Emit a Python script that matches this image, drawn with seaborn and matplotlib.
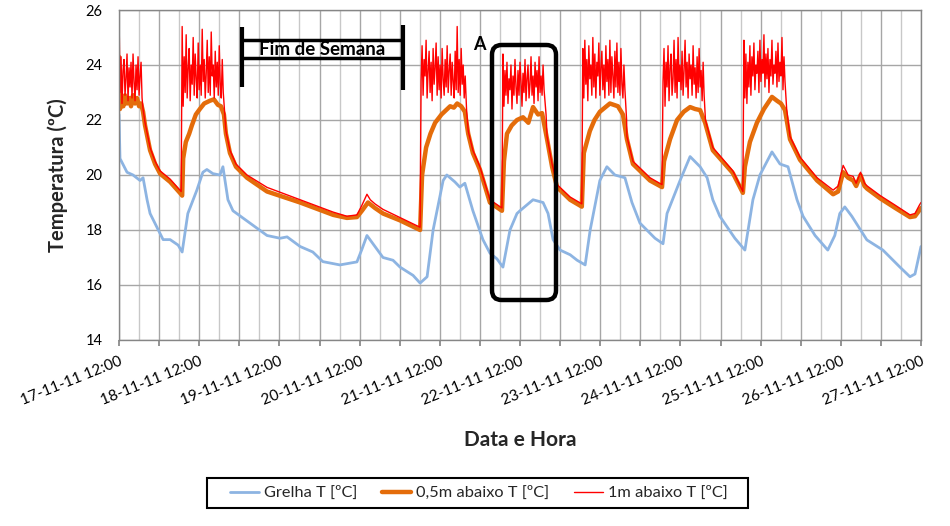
import numpy as np
import pandas as pd
import seaborn as sns
import matplotlib.pyplot as plt
import matplotlib.dates as mdates
from matplotlib.ticker import FuncFormatter
from matplotlib.patches import FancyBboxPatch, Rectangle

start = pd.Timestamp('2011-11-17 12:00')

# Grelha T [ºC]: hours after 17-11-11 12:00 and temperature
grelha_h = [0.0, 0.3, 2.4, 4.2, 6.3, 7.2, 8.4, 9.3, 13.2, 15.3, 17.7, 18.9, 20.6, 23.3, 25.1,
            26.3, 28.1, 30.2, 31.1, 32.6, 34.1, 39.2, 44.3, 48.2, 50.3, 54.2, 58.0, 61.0, 66.1,
            71.2, 72.7, 74.2, 76.0, 79.0, 82.0, 84.1, 88.0, 90.1, 92.2, 94.0, 97.0, 98.1, 100.5,
            102.0, 103.5, 105.9, 108.9, 111.0, 113.1, 114.9, 117.0, 119.1, 120.0, 123.9, 126.9,
            128.4, 129.9, 132.0, 135.0, 137.1, 139.5, 141.0, 143.9, 146.0, 148.4, 151.4, 153.5,
            155.9, 160.4, 162.8, 164.0, 167.9, 170.9, 173.9, 176.0, 177.7, 179.8, 184.3, 187.3,
            189.7, 191.8, 195.4, 197.8, 200.2, 202.9, 204.7, 208.3, 212.1, 214.2, 215.7, 217.2,
            219.3, 223.8, 228.6, 233.7, 236.7, 238.2, 240.0]
grelha = [22.2, 20.6, 20.1, 20.0, 19.8, 19.9, 19.1, 18.6, 17.65, 17.65, 17.45, 17.2, 18.6, 19.45, 20.1,
          20.2, 20.05, 20.0, 20.3, 19.1, 18.7, 18.25, 17.8, 17.7, 17.75, 17.4, 17.2, 16.85, 16.73,
          16.84, 17.3, 17.8, 17.5, 17.0, 16.9, 16.65, 16.35, 16.07, 16.3, 18.0, 19.8, 20.0, 19.75,
          19.56, 19.7, 18.7, 17.65, 17.16, 16.95, 16.65, 18.0, 18.6, 18.7, 19.1, 19.0,
          18.6, 17.65, 17.27, 17.1, 16.9, 16.73, 18.0, 19.8, 20.3, 20.0, 19.9, 19.0,
          18.25, 17.7, 17.5, 18.6, 19.8, 20.67, 20.3, 19.9, 19.1, 18.5, 17.7, 17.27,
          19.1, 20.0, 20.84, 20.4, 20.3, 19.1, 18.5, 17.8, 17.27, 17.8, 18.6, 18.84,
          18.5, 17.64, 17.27, 16.65, 16.3, 16.4, 17.4]

# 0,5m abaixo T [ºC]
meio_h = [0.0, 0.3, 0.8, 1.3, 1.8, 2.4, 3.0, 3.6, 4.2, 4.8, 5.4, 6.0, 6.6, 7.2, 7.8, 9.3, 10.8,
          12.3, 15.3, 18.6, 18.9, 19.2, 20.0, 21.0, 21.8, 23.0, 24.2, 25.5, 27.2, 28.4, 29.6,
          30.5, 31.4, 32.0, 33.2, 35.0, 38.3, 44.3, 54.2, 64.1, 68.2, 71.2, 72.7, 74.5, 76.6,
          79.0, 84.1, 90.1, 90.7, 91.9, 93.2, 94.6, 96.5, 99.1, 100.2, 101.2, 102.4, 103.5, 104.5,
          105.9, 108.0, 111.0, 114.6, 115.2, 116.1, 117.5, 119.1, 120.9, 122.5, 123.9, 125.4,
          126.6, 128.1, 129.6, 131.1, 135.0, 138.5, 139.1, 140.9, 142.3, 143.9, 145.4, 146.9,
          148.1, 149.3, 150.8, 152.0, 153.8, 158.9, 162.5, 163.1, 164.9, 167.0, 169.0, 170.9,
          172.4, 173.9, 175.4, 177.7, 183.7, 186.7, 187.3, 188.8, 190.9, 193.0, 195.4, 196.9,
          198.1, 199.3, 200.8, 203.8, 208.9, 213.7, 215.2, 216.7, 218.2, 219.7, 220.6, 221.9,
          223.1, 223.9, 227.8, 232.3, 236.7, 238.2, 240.0]
meio = [24.3, 22.4, 22.8, 22.5, 22.9, 22.6, 22.8, 22.5, 22.9, 22.6, 22.8, 22.5, 22.6, 22.3, 21.8, 20.9, 20.4,
        20.05, 19.75, 19.3, 19.25, 20.6, 21.2, 21.5, 21.8, 22.2, 22.4, 22.6, 22.7, 22.75, 22.55,
        22.5, 22.2, 21.5, 20.8, 20.3, 19.9, 19.4, 19.0, 18.55, 18.44, 18.47, 18.7, 19.0, 18.8,
        18.6, 18.35, 18.0, 20.0, 21.0, 21.5, 21.9, 22.2, 22.5, 22.45, 22.6, 22.5, 22.3, 21.5,
        20.8, 20.2, 19.0, 18.7, 20.5, 21.5, 21.8, 22.0, 22.1, 21.9, 22.47, 22.2,
        22.25, 21.3, 20.3, 19.56, 19.1, 18.85, 20.8, 21.6, 22.0, 22.3, 22.45, 22.6,
        22.55, 22.5, 22.2, 21.3, 20.4, 19.8, 19.56, 20.5, 21.3, 22.0, 22.3, 22.47,
        22.4, 22.36, 21.9, 20.9, 20.07, 19.35, 20.3, 21.2, 21.9, 22.4, 22.84, 22.7,
        22.6, 22.36, 21.3, 20.55, 19.8, 19.3, 19.4, 20.1, 19.9, 19.8, 19.6, 20.0,
        19.6, 19.5, 19.15, 18.8, 18.47, 18.5, 18.8]

# 1m abaixo T [ºC]: readings outside the occupied hours
um_h = [7.2, 7.8, 9.3, 10.8, 12.3, 15.3, 18.6,
        31.6, 32.0, 33.2, 35.0, 38.3, 44.3, 54.2, 64.1, 68.2, 71.2, 72.7, 74.2, 75.2, 76.6, 79.0,
        84.1, 90.1,
        104.0, 104.5, 105.9, 108.0, 111.0, 114.6,
        127.8, 128.1, 129.6, 131.1, 135.0, 138.5,
        151.9, 152.0, 153.8, 158.9, 162.5,
        175.5, 177.7, 183.7, 186.7,
        199.8, 200.8, 203.8, 208.9, 213.7, 215.2, 216.7, 218.2, 219.7, 220.6, 221.9, 223.1,
        223.9, 227.8, 232.3, 236.7, 238.2, 239.5, 240.0]
um = [22.4, 21.9, 21.0, 20.5, 20.15, 19.85, 19.4,
      22.3, 21.6, 20.9, 20.4, 20.0, 19.55, 19.1, 18.65, 18.5, 18.55, 18.9, 19.3, 19.1, 18.95, 18.75,
      18.45, 18.1,
      22.4, 21.6, 20.9, 20.3, 19.1, 18.8,
      22.2, 21.4, 20.4, 19.65, 19.2, 18.95,
      22.0, 21.4, 20.5, 19.9, 19.65,
      22.0, 21.0, 20.15, 19.4,
      22.4, 21.4, 20.65, 19.9, 19.45, 19.6, 20.35, 20.0, 19.95, 19.7, 20.1, 19.7,
      19.6, 19.25, 18.9, 18.55, 18.6, 18.9, 19.0]

# 1m abaixo T [ºC]: occupied hours, one reading every 0.3 h from each start
um_burst_h = [0.0, 18.9, 90.4, 114.9, 138.8, 162.8, 187.0]
um_bursts = [
    [26.0, 23.0, 24.3, 22.6, 23.8, 24.2, 22.9, 23.5, 24.4, 22.7, 23.9, 23.2, 24.1, 22.8, 24.4,
     23.4, 22.7, 24.0, 23.1, 24.3, 22.9, 23.6, 24.1, 22.8],
    [25.4, 22.5, 24.3, 23.0, 25.1, 22.8, 23.9, 24.6, 22.7, 24.0, 23.3, 25.0, 22.9, 24.4, 23.5,
     22.8, 24.8, 23.1, 24.0, 22.9, 25.3, 23.4, 24.2, 22.8, 23.7, 24.9, 23.0, 24.3, 22.9, 25.2,
     23.6, 24.0, 22.8, 24.5, 23.2, 24.1, 22.9, 24.7, 23.3, 22.8, 24.2, 23.0],
    [23.4, 24.7, 22.9, 24.2, 23.6, 24.9, 22.8, 23.8, 24.5, 23.0, 24.1, 22.7, 24.6, 23.3, 23.9,
     24.8, 22.9, 24.3, 23.1, 24.0, 22.8, 24.6, 23.5, 22.9, 24.2, 23.2, 24.7, 23.0, 23.8, 24.4,
     22.9, 24.1, 23.4, 22.8, 24.5, 23.1, 25.4, 23.0, 24.2, 22.9, 24.6, 23.3, 24.0, 22.8, 23.6],
    [24.4, 22.5, 23.8, 22.9, 24.1, 22.6, 23.5, 23.1, 24.0, 22.4, 23.6, 22.9, 24.2, 23.2, 22.6,
     23.8, 22.9, 24.1, 23.4, 22.5, 23.7, 23.0, 24.2, 22.7, 23.5, 24.0, 22.8, 23.3, 24.3, 22.9,
     23.6, 22.6, 24.1, 23.2, 23.8, 22.7, 24.3, 23.0, 23.6, 22.9, 24.0, 23.1],
    [24.6, 22.8, 24.9, 23.3, 24.2, 22.7, 24.7, 23.5, 24.0, 22.9, 25.0, 23.2, 24.4, 22.8, 24.1,
     23.6, 24.8, 22.9, 23.9, 24.5, 23.1, 24.0, 22.8, 24.7, 23.4, 24.2, 22.9, 24.9, 23.0, 24.3,
     23.6, 22.8, 24.5, 23.2, 24.8, 23.0, 24.1, 22.9, 24.6, 23.3, 22.8, 24.0, 23.1],
    [23.4, 24.6, 22.5, 24.1, 23.2, 24.7, 22.7, 23.9, 24.4, 22.9, 23.5, 24.9, 23.0, 24.2, 22.8,
     25.0, 23.4, 24.0, 23.1, 24.5, 22.9, 23.8, 24.9, 23.2, 24.1, 22.8, 24.4, 23.5, 24.0, 22.9,
     24.7, 23.3, 23.9, 22.8, 24.3, 23.0, 24.6, 23.2, 23.8, 22.7, 24.1, 22.9],
    [24.9, 22.8, 24.4, 22.6, 24.1, 23.2, 24.7, 22.9, 24.3, 23.6, 24.8, 23.1, 24.0, 23.7, 24.5,
     23.0, 24.9, 23.4, 24.2, 23.7, 25.1, 23.2, 24.4, 23.5, 24.6, 23.0, 24.2, 23.6, 24.9, 23.3,
     24.0, 23.7, 24.5, 23.2, 24.8, 23.4, 24.1, 23.6, 25.0, 23.1, 24.3, 23.4],
]

labels = ['Grelha T [ºC]', '0,5m abaixo T [ºC]', '1m abaixo T [ºC]']
colors = ['#8DB4E2', '#E46C0A', '#FF0000']


def to_frame(hours, values):
    return pd.DataFrame({'Data': start + pd.to_timedelta(np.asarray(hours), unit='h'),
                         'T': values})


df_g = to_frame(grelha_h, grelha)
df_m = to_frame(meio_h, meio)
parts = [to_frame(um_h, um)]
for h0, vals in zip(um_burst_h, um_bursts):
    parts.append(to_frame(h0 + 0.3 * np.arange(len(vals)), vals))
df_u = pd.concat(parts).sort_values('Data')

sns.set_theme(style="white")
plt.rcParams['font.family'] = ['Lato', 'DejaVu Sans']

fig = plt.figure(figsize=(9.5, 5.26), dpi=100)
ax = fig.add_axes([119 / 950, 1 - 340 / 526, 802 / 950, 330 / 526])

sns.lineplot(data=df_g, x='Data', y='T', color=colors[0], linewidth=2, label=labels[0],
             estimator=None, ax=ax)
sns.lineplot(data=df_m, x='Data', y='T', color=colors[1], linewidth=3.2, label=labels[1],
             estimator=None, ax=ax)
sns.lineplot(data=df_u, x='Data', y='T', color=colors[2], linewidth=1, label=labels[2],
             estimator=None, ax=ax)

ax.set_xlim(start, start + pd.Timedelta(days=10))
ax.set_ylim(14, 26)
ax.set_yticks(np.arange(14, 27, 2))

ax.xaxis.set_major_locator(mdates.HourLocator(byhour=[0, 12]))
ax.xaxis.set_minor_locator(mdates.HourLocator(byhour=[6, 18]))
ax.xaxis.set_major_formatter(FuncFormatter(
    lambda v, pos: mdates.num2date(v).strftime('%d-%m-%y %H:%M')
    if mdates.num2date(v).hour == 12 else ''))

ax.grid(True, which='major', color='#a6a6a6', linewidth=1)
ax.grid(True, which='minor', axis='x', color='#c8c8c8', linewidth=1)
ax.set_axisbelow(True)
for s in ax.spines.values():
    s.set_color('#868686')
    s.set_linewidth(1)

ax.tick_params(axis='x', which='major', bottom=True, length=4, color='#868686',
               labelsize=11, pad=6, labelcolor='black')
ax.tick_params(axis='x', which='minor', bottom=False)
ax.tick_params(axis='y', labelsize=10.5, left=False, pad=6, labelcolor='black')
plt.setp(ax.get_xticklabels(), rotation=22, ha='right', rotation_mode='anchor')

ax.set_xlabel('Data e Hora', fontsize=15, fontweight='bold', va='center')
ax.xaxis.set_label_coords(0.5, -0.303)
ax.set_ylabel('Temperatura (ºC)', fontsize=14.5, fontweight='bold', va='center')
ax.yaxis.set_label_coords(-0.076, 0.5)

# weekend bracket
d = lambda h: mdates.date2num(start + pd.Timedelta(hours=h))
ax.vlines(d(36.8), 23.2, 25.4, color='black', linewidth=3)
ax.vlines(d(85.0), 23.1, 25.45, color='black', linewidth=3)
ax.hlines([24.9, 24.25], d(36.8), d(85.0), color='black', linewidth=2.5)
ax.text(d(60.9), 24.57, 'Fim de Semana', ha='center', va='center', fontsize=13.5,
        fontweight='bold', color='black')

ax.text(d(107.7), 24.76, 'A', ha='center', va='center', fontsize=13, fontweight='bold',
        color='black')
box = FancyBboxPatch(((492 - 119) / 802, (340 - 300) / 330), 64 / 802, 255 / 330,
                     boxstyle='round,pad=0,rounding_size=0.012', mutation_aspect=802 / 330,
                     transform=ax.transAxes, fill=False, edgecolor='black', linewidth=3.2,
                     zorder=5)
ax.add_patch(box)

handles, labs = ax.get_legend_handles_labels()
if ax.get_legend() is not None:
    ax.get_legend().remove()
leg = fig.legend(handles, labs, loc='center', bbox_to_anchor=(479 / 950, 1 - 493 / 526),
                 ncol=3, fontsize=11.8, frameon=False, handlelength=1.77,
                 columnspacing=1.5, handletextpad=0.3)
fig.patches.append(Rectangle((207 / 950, 1 - 508 / 526), 541 / 950, 30 / 526,
                             transform=fig.transFigure, fill=False, edgecolor='black',
                             linewidth=1.5))

fig.savefig('out.png', dpi=100)
